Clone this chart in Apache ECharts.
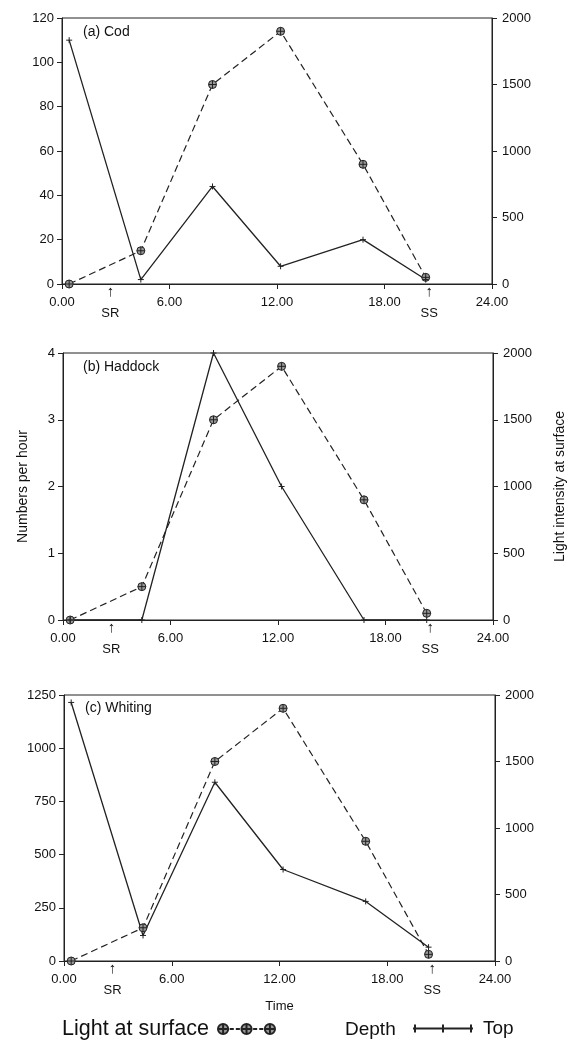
<!DOCTYPE html>
<html>
<head>
<meta charset="utf-8">
<script src="https://cdn.jsdelivr.net/npm/echarts@6/dist/echarts.min.js"></script>
<style>
html, body { margin: 0; padding: 0; background: #fff; }
#chart { width: 569px; height: 1042px; }
</style>
</head>
<body>
<div id="chart"></div>
<script>
// sampling times (hours of the day)
const hours = [0.4, 4.4, 8.4, 12.2, 16.8, 20.3];
// light intensity at surface (right axis, same in every panel)
const light = [0, 250, 1500, 1900, 900, 50];
// numbers per hour, depth = Top
const codTop = [110, 2, 44, 8, 20, 2];
const haddockTop = [0, 0, 4, 2, 0, 0];
const whitingTop = [1215, 120, 840, 430, 280, 65];
// sunrise / sunset marks
const sunTimes = [2.7, 20.5];
const sunLabels = ['SR', 'SS'];
// panels
const panelNames = ['(a) Cod', '(b) Haddock', '(c) Whiting'];
const panelTop = [codTop, haddockTop, whitingTop];
const leftMax = [120, 4, 1250];
const leftStep = [20, 1, 250];

const ink = '#222';
const font = 'Liberation Sans';
const lightSymbol = 'path://M0,5a5,5 0 1,0 10,0a5,5 0 1,0 -10,0zM0,5L10,5M5,0L5,10';
const plusSymbol = 'path://M0,5L10,5M5,0L5,10';

const grids = [
    { left: 62, right: 77, top: 18, height: 266 },
    { left: 63, right: 76, top: 353, height: 267 },
    { left: 64, right: 74, top: 695, height: 266 }
];
const titlePos = [[83, 25], [83, 360], [85, 701]];

let xAxes = [], yAxes = [], series = [], titles = [];
for (let i = 0; i < 3; i++) {
    grids[i].show = true;
    grids[i].borderColor = ink;
    grids[i].borderWidth = 1;
    grids[i].containLabel = false;
    grids[i].outerBoundsMode = 'none';
    titles.push({
        text: panelNames[i], left: titlePos[i][0], top: titlePos[i][1], padding: 0,
        textStyle: { fontFamily: font, fontSize: 14, fontWeight: 'normal', color: '#111' }
    });
    // main time axis
    xAxes.push({
        type: 'value', gridIndex: i, min: 0, max: 24, interval: 6, position: 'bottom',
        name: i === 2 ? 'Time' : '', nameLocation: 'middle', nameGap: 39,
        nameTextStyle: { fontFamily: font, fontSize: 13, color: '#111' },
        axisLine: { show: true, onZero: false, lineStyle: { color: ink } },
        axisTick: { show: true, length: 5, lineStyle: { color: ink } },
        axisLabel: { margin: 12, fontFamily: font, fontSize: 13, color: '#111', formatter: v => v.toFixed(2) },
        splitLine: { show: false }
    });
    // SR / SS arrows
    xAxes.push({
        type: 'value', gridIndex: i, min: 0, max: 24, position: 'bottom',
        axisLine: { show: false, onZero: false }, axisTick: { show: false }, splitLine: { show: false },
        axisLabel: {
            customValues: sunTimes, margin: 1,
            formatter: v => '{a|\u2191}\n{t|' + sunLabels[sunTimes.indexOf(v)] + '}',
            rich: {
                a: { fontFamily: font, fontSize: 15, lineHeight: 14, color: '#111' },
                t: { fontFamily: font, fontSize: 13, lineHeight: 28, color: '#111' }
            }
        }
    });
    yAxes.push({
        type: 'value', gridIndex: i, min: 0, max: leftMax[i], interval: leftStep[i], position: 'left',
        name: i === 1 ? 'Numbers per hour' : '', nameLocation: 'middle', nameGap: 33,
        nameTextStyle: { fontFamily: font, fontSize: 14, color: '#111' },
        axisLine: { show: true, onZero: false, lineStyle: { color: ink } },
        axisTick: { show: true, length: 5, lineStyle: { color: ink } },
        axisLabel: { margin: 8, fontFamily: font, fontSize: 13, color: '#111', formatter: v => String(v) },
        splitLine: { show: false }
    });
    yAxes.push({
        type: 'value', gridIndex: i, min: 0, max: 2000, interval: 500, position: 'right',
        name: i === 1 ? 'Light intensity at surface' : '', nameLocation: 'middle', nameGap: 60,
        nameTextStyle: { fontFamily: font, fontSize: 14, color: '#111' },
        axisLine: { show: true, onZero: false, lineStyle: { color: ink } },
        axisTick: { show: true, length: 5, lineStyle: { color: ink } },
        axisLabel: { margin: 10, fontFamily: font, fontSize: 13, color: '#111', formatter: v => String(v) },
        splitLine: { show: false }
    });
    series.push({
        name: 'Light at surface', type: 'line', xAxisIndex: i * 2, yAxisIndex: i * 2 + 1,
        data: hours.map((h, k) => [h, light[k]]),
        symbol: lightSymbol, symbolSize: 8,
        itemStyle: { color: '#999', borderColor: ink, borderWidth: 1 },
        lineStyle: { color: ink, width: 1.2, type: [7, 4] }
    });
    series.push({
        name: 'Top', type: 'line', xAxisIndex: i * 2, yAxisIndex: i * 2,
        data: hours.map((h, k) => [h, panelTop[i][k]]),
        symbol: plusSymbol, symbolSize: 6,
        itemStyle: { color: ink, borderColor: ink, borderWidth: 1 },
        lineStyle: { color: ink, width: 1.3 }
    });
}

const chart = echarts.init(document.getElementById('chart'));
chart.setOption({
    animation: false,
    backgroundColor: '#fff',
    title: titles,
    grid: grids,
    xAxis: xAxes,
    yAxis: yAxes,
    series: series,
    legend: [{
        data: ['Light at surface'], left: 62, top: 1018, align: 'right', padding: 0,
        icon: 'path://M0.5,5.5a5,5 0 1,0 10,0a5,5 0 1,0 -10,0zM0.5,5.5L10.5,5.5M5.5,0.5L5.5,10.5M12,5.5L16,5.5M18,5.5L22,5.5M23.5,5.5a5,5 0 1,0 10,0a5,5 0 1,0 -10,0zM23.5,5.5L33.5,5.5M28.5,0.5L28.5,10.5M35,5.5L39,5.5M41,5.5L45,5.5M46.5,5.5a5,5 0 1,0 10,0a5,5 0 1,0 -10,0zM46.5,5.5L56.5,5.5M51.5,0.5L51.5,10.5',
        itemWidth: 57, itemHeight: 11,
        textStyle: { fontFamily: font, fontSize: 21.5, color: '#111', padding: [0, 4, 0, 0] }
    }, {
        data: ['Top'], left: 412, top: 1019, align: 'left', padding: 0,
        icon: 'path://M0,4L60,4M2,0L2,8M30,0L30,8M58,0L58,8',
        itemWidth: 60, itemHeight: 8,
        textStyle: { fontFamily: font, fontSize: 19, color: '#111', padding: [0, 0, 0, 5] }
    }],
    graphic: [{
        type: 'text', left: 345, top: 1020,
        style: { text: 'Depth', fontFamily: font, fontSize: 19, fill: '#111' }
    }]
});
</script>
</body>
</html>
